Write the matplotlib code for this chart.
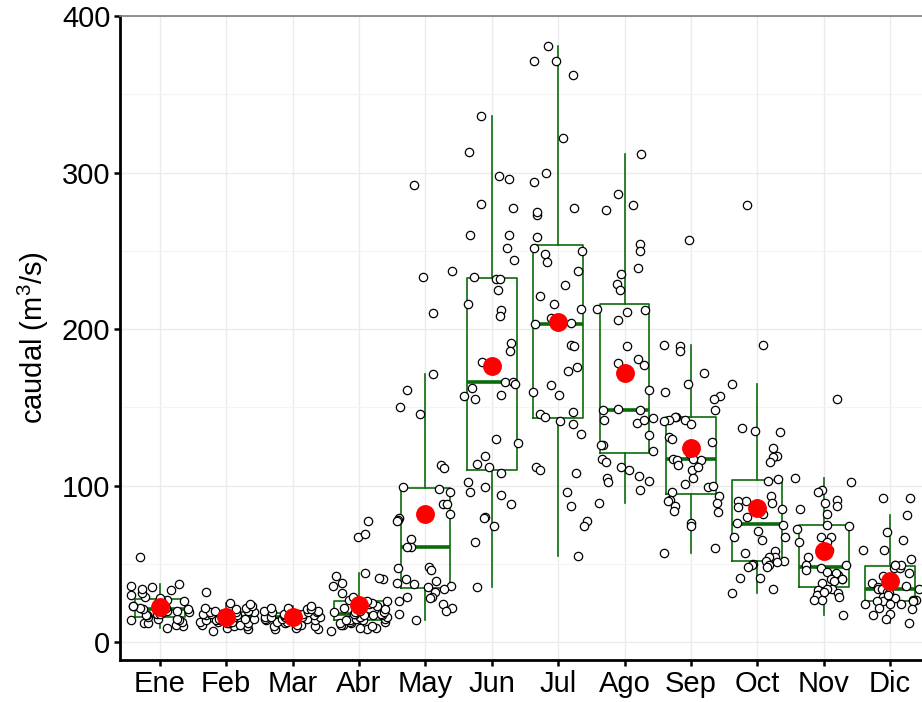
import matplotlib
matplotlib.use("Agg")
import matplotlib.pyplot as plt
import numpy as np

plt.rcParams["font.family"] = ["Liberation Sans", "DejaVu Sans"]
plt.rcParams["mathtext.default"] = "regular"

# meses
meses = ["Ene", "Feb", "Mar", "Abr", "May", "Jun", "Jul", "Ago", "Sep", "Oct", "Nov", "Dic"]

# caudal mensual (m3/s)
ene = [9, 10, 11, 12, 12, 13, 14, 14, 15, 15, 16, 17, 17, 18, 18, 19, 19, 20, 20, 21,
       21, 22, 22, 23, 23, 24, 25, 26, 27, 27, 28, 29, 30, 31, 33, 34, 35, 36, 37, 54]
feb = [7, 8, 9, 10, 10, 11, 11, 12, 12, 12, 13, 13, 13, 14, 14, 14, 15, 15, 15, 16,
       16, 16, 17, 17, 17, 18, 18, 18, 19, 19, 19, 20, 20, 21, 22, 22, 23, 24, 25, 32]
mar = [8, 8, 9, 10, 10, 11, 11, 12, 13, 13, 14, 14, 14, 15, 15, 15, 15, 16, 16, 16,
       16, 16, 17, 17, 17, 17, 18, 18, 18, 18, 19, 19, 19, 20, 20, 21, 21, 22, 22, 23]
abr = [7, 8, 9, 9, 10, 11, 11, 12, 12, 13, 13, 14, 14, 14, 15, 15, 16, 16, 16, 17,
       17, 17, 18, 18, 18, 19, 19, 19, 20, 21, 22, 23, 24, 25, 26, 26, 27, 29, 31, 36,
       38, 40, 41, 42, 44, 67, 69, 77]
may = [292, 237, 233, 210, 171, 161, 150, 146, 113, 111, 98, 99, 96, 88, 88, 84, 82,
       79, 78, 77, 66, 61, 61, 48, 47, 46, 40, 39, 38, 37, 36, 35, 34, 32, 29, 29, 28,
       26, 24, 22, 20, 18, 14]
jun = [336, 313, 298, 296, 280, 277, 260, 260, 252, 244, 233, 232, 232, 225, 216, 212,
       208, 191, 186, 179, 166, 166, 165, 162, 157, 158, 155, 130, 127, 119, 114, 112,
       108, 102, 99, 96, 94, 88, 80, 79, 74, 64, 35]
jul = [381, 371, 371, 362, 322, 300, 294, 277, 273, 275, 259, 252, 250, 248, 243, 237,
       228, 221, 216, 213, 207, 204, 203, 190, 189, 176, 173, 164, 160, 158, 147, 146,
       144, 141, 139, 133, 112, 110, 108, 96, 87, 77, 74, 55]
ago = [312, 286, 279, 276, 254, 250, 239, 235, 229, 225, 213, 212, 211, 206, 189, 181,
       178, 177, 161, 149, 148, 148, 143, 142, 140, 142, 132, 126, 126, 122, 117, 115,
       110, 112, 106, 105, 103, 102, 97, 89]
sep = [257, 190, 189, 186, 172, 165, 160, 157, 155, 148, 144, 142, 144, 142, 141, 139,
       131, 130, 128, 120, 117, 116, 116, 117, 113, 110, 112, 105, 101, 99, 100, 96,
       91, 90, 93, 89, 87, 83, 84, 76, 74, 60, 57]
octu = [279, 190, 165, 137, 135, 134, 124, 119, 118, 115, 104, 103, 93, 90, 90, 89, 86,
        85, 82, 80, 75, 76, 71, 67, 67, 65, 58, 57, 54, 54, 52, 52, 50, 49, 49, 51, 48,
        48, 41, 41, 34, 31]
nov = [155, 105, 102, 97, 96, 91, 89, 87, 85, 82, 75, 74, 72, 67, 67, 64, 64, 59, 54,
       49, 49, 46, 47, 43, 44, 45, 40, 38, 40, 40, 39, 34, 33, 34, 30, 31, 30, 27, 29,
       32, 27, 17]
dic = [92, 92, 81, 70, 65, 59, 59, 53, 49, 47, 47, 49, 49, 40, 38, 35, 34, 34, 34, 34,
       32, 29, 28, 27, 27, 26, 26, 26, 24, 24, 24, 21, 22, 18, 17, 15, 12, 44, 31, 36,
       30, 42]

datos = [ene, feb, mar, abr, may, jun, jul, ago, sep, octu, nov, dic]
verde = "#0a6b0a"

fig = plt.figure(figsize=(9.22, 7.02), dpi=100)
ax = fig.add_axes([120 / 922, 42 / 702, 810 / 922, 644 / 702])

pos = np.arange(1, 13)
ax.boxplot(datos, positions=pos, widths=0.75, showfliers=False, showcaps=False,
           patch_artist=False, zorder=2,
           boxprops=dict(color=verde, linewidth=1.2),
           whiskerprops=dict(color=verde, linewidth=1.2),
           medianprops=dict(color=verde, linewidth=2.6))

# puntos con jitter horizontal
rng = np.random.default_rng(7)
for i, vals in enumerate(datos):
    xj = pos[i] + rng.uniform(-0.44, 0.44, len(vals))
    ax.scatter(xj, vals, s=36, facecolor="white", edgecolor="black", linewidth=0.9, zorder=3)

medias = [np.mean(v) for v in datos]
ax.scatter(pos, medias, s=185, color="red", zorder=4, linewidth=0)

ax.set_xlim(0.4, 12.6)
ax.set_ylim(-11.5, 400)
ax.set_xticks(pos)
ax.set_xticklabels(meses)
ax.set_yticks([0, 100, 200, 300, 400])
ax.set_yticks([50, 150, 250, 350], minor=True)
ax.grid(True, which="major", color="#EBEBEB", linewidth=1.0, zorder=0)
ax.grid(True, which="minor", axis="y", color="#F4F4F4", linewidth=0.8, zorder=0)
ax.set_axisbelow(True)

ax.spines["right"].set_visible(False)
ax.spines["top"].set_color("#7f7f7f")
ax.spines["top"].set_linewidth(1.2)
ax.spines["left"].set_linewidth(2.0)
ax.spines["bottom"].set_linewidth(2.0)
ax.tick_params(axis="both", which="major", length=4, width=1.8, labelsize=21,
               color="black", pad=3)
ax.tick_params(axis="y", which="minor", length=0)
ax.set_ylabel("caudal (m$^3$/s)", fontsize=21, labelpad=8)

fig.savefig("out.png", dpi=100)
